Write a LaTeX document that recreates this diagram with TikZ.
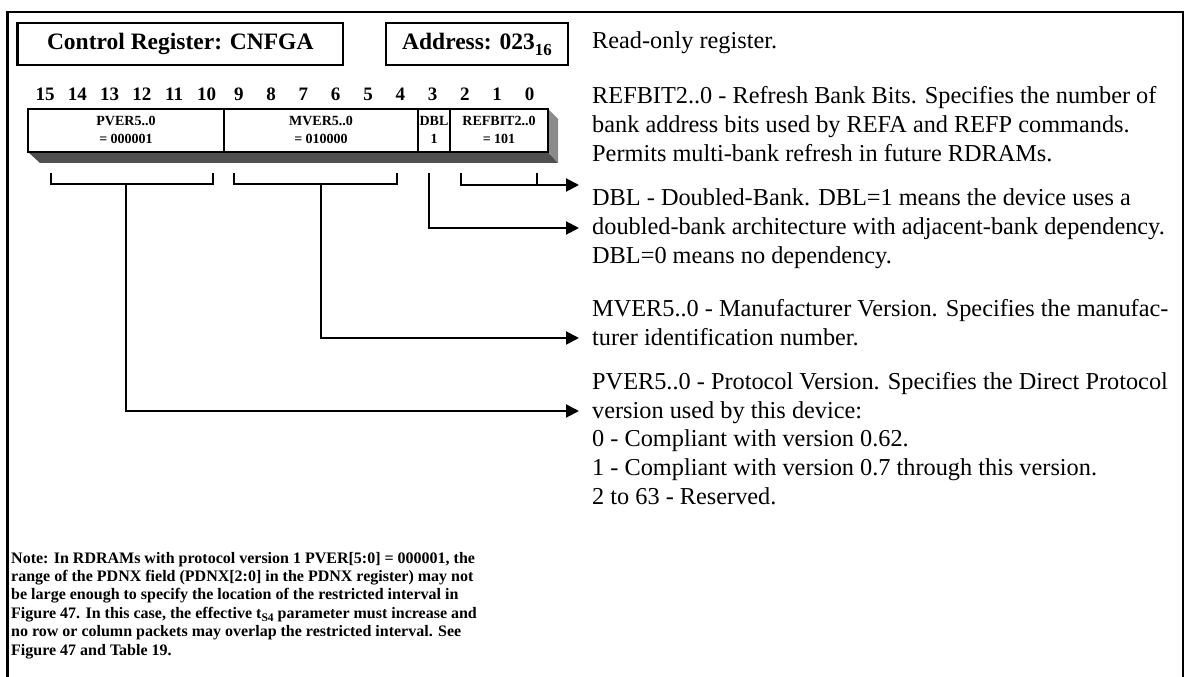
\documentclass[tikz,border=0pt]{standalone}
\usepackage{fontspec}
\setmainfont{Liberation Serif}
\usetikzlibrary{arrows.meta}
\definecolor{shadowdark}{HTML}{4F4F4F}
\definecolor{shadowside}{HTML}{8A8A8A}
\newcommand{\lowsub}[2]{\raisebox{-#2}{\fontsize{0.72em}{0.72em}\selectfont #1}}
\begin{document}
\begin{tikzpicture}[x=1bp,y=-1bp,
  frameline/.style={line width=2.4bp},
  box/.style={draw, line width=2.2bp, inner sep=0},
  conn/.style={line width=2bp},
  arr/.style={conn,-{Triangle[length=13bp,width=13bp]}},
  desc/.style={anchor=base west, inner sep=0, font=\fontsize{24.3bp}{28.8bp}\selectfont},
  bitn/.style={font=\bfseries\fontsize{19bp}{22bp}\selectfont, inner sep=0},
  fld/.style={font=\bfseries\fontsize{14bp}{17bp}\selectfont, inner sep=0},
  notel/.style={anchor=base west, inner sep=0, font=\bfseries\fontsize{16bp}{19bp}\selectfont},
  title/.style={font=\bfseries\fontsize{23.5bp}{28bp}\selectfont}
]
\useasboundingbox (0,0) rectangle (1187,677);
% outer frame (open at bottom)
\draw[frameline] (7.5,677) -- (7.5,12) -- (1183,12) -- (1183,677);

% header boxes
\node[box, title, minimum width=325.5bp, minimum height=42bp] (ttl) at (180.25,44) {Control Register: CNFGA};
\node[box, title, minimum width=182bp, minimum height=42bp] (addr) at (477,44) {Address: 023\lowsub{16}{6bp}};

% bit numbers
\foreach \b in {15,...,0}{
  \pgfmathsetmacro{\xx}{45+(15-\b)*32.3}
  \node[bitn] (bit\b) at (\xx,94) {\b};
}

% shadow of register
\fill[shadowdark] (28,152) -- (548,152) -- (558,163) -- (40,163) -- cycle;
\fill[shadowside] (548,109) -- (558,119) -- (558,163) -- (548,152) -- cycle;

% register fields
\node[box, fill=white, minimum width=196bp, minimum height=43bp] (pver) at (126,130.5) {};
\node[box, fill=white, minimum width=194bp, minimum height=43bp] (mver) at (321,130.5) {};
\node[box, fill=white, minimum width=32bp, minimum height=43bp] (dbl) at (434,130.5) {};
\node[box, fill=white, minimum width=98bp, minimum height=43bp] (refb) at (499,130.5) {};
\node[fld] (pvert) at (126,121) {PVER5..0};
\node[fld] (pverv) at (126,138.5) {= 000001};
\node[fld] (mvert) at (321,121) {MVER5..0};
\node[fld] (mverv) at (321,138.5) {= 010000};
\node[fld] (dblt) at (434,121) {DBL};
\node[fld] (dblv) at (434,138.5) {1};
\node[fld] (refbt) at (499,121) {REFBIT2..0};
\node[fld] (refbv) at (499,138.5) {= 101};

% brackets and connectors
\coordinate (pvL) at (51,173); \coordinate (pvR) at (213,173); \coordinate (pvM) at (126,184);
\coordinate (mvL) at (234,173); \coordinate (mvR) at (397,173); \coordinate (mvM) at (321,184);
\coordinate (dbT) at (429,173);
\coordinate (rbL) at (461,173); \coordinate (rbR) at (537,173);
\coordinate (tipR) at (579,185); \coordinate (tipD) at (579,228);
\coordinate (tipM) at (579,338); \coordinate (tipP) at (579,411);

\draw[conn] (pvL) -- ++(0,11) -| (pvR);
\draw[conn] (mvL) -- ++(0,11) -| (mvR);
\draw[conn] (rbR) -- ++(0,12);
\draw[arr] (rbL) |- (tipR);
\draw[arr] (dbT) |- (tipD);
\draw[arr] (mvM) |- (tipM);
\draw[arr] (pvM) |- (tipP);

% descriptions
\node[desc] (d0) at (592,49) {Read-only register.};
\node[desc] (r1) at (592,103.5) {REFBIT2..0 - Refresh Bank Bits. Specifies the number of};
\node[desc] (r2) at (592,132.3) {bank address bits used by REFA and REFP commands.};
\node[desc] (r3) at (592,161.1) {Permits multi-bank refresh in future RDRAMs.};
\node[desc] (b1) at (592,205.5) {DBL - Doubled-Bank. DBL=1 means the device uses a};
\node[desc] (b2) at (592,234.3) {doubled-bank architecture with adjacent-bank dependency.};
\node[desc] (b3) at (592,263.1) {DBL=0 means no dependency.};
\node[desc] (m1) at (592,316.2) {MVER5..0 - Manufacturer Version. Specifies the manufac-};
\node[desc] (m2) at (592,345) {turer identification number.};
\node[desc] (p1) at (592,389.2) {PVER5..0 - Protocol Version. Specifies the Direct Protocol};
\node[desc] (p2) at (592,418) {version used by this device:};
\node[desc] (p3) at (592,446.8) {0 - Compliant with version 0.62.};
\node[desc] (p4) at (592,475.6) {1 - Compliant with version 0.7 through this version.};
\node[desc] (p5) at (592,504.4) {2 to 63 - Reserved.};

% note
\node[notel] (n1) at (11,563) {Note: In RDRAMs with protocol version 1 PVER[5:0] = 000001, the};
\node[notel] (n2) at (11,581.4) {range of the PDNX field (PDNX[2:0] in the PDNX register) may not};
\node[notel] (n3) at (11,599.8) {be large enough to specify the location of the restricted interval in};
\node[notel] (n4) at (11,618.2) {Figure 47. In this case, the effective t\lowsub{S4}{3bp} parameter must increase and};
\node[notel] (n5) at (11,636.6) {no row or column packets may overlap the restricted interval. See};
\node[notel] (n6) at (11,655) {Figure 47 and Table 19.};
\end{tikzpicture}
\end{document}
